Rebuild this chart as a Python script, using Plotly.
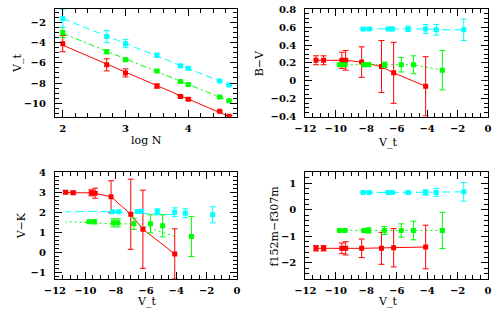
import numpy as np
import plotly.graph_objects as go

# ---- data ----
logN = [2.0, 2.7, 3.0, 3.5, 3.875, 4.0, 4.5, 4.65]

vt_red = [-4.1, -6.2, -7.0, -8.3, -9.35, -9.6, -10.8, -11.3]
vt_red_err = [0.8, 0.6, 0.4, 0.2, 0.1, 0.1, 0.08, 0.08]
vt_green = [-3.0, -4.9, -5.7, -6.8, -7.85, -8.15, -9.4, -9.75]
vt_green_err = [0.5, 0.2, 0.15, 0.1, 0.08, 0.08, 0.06, 0.06]
vt_cyan = [-1.6, -3.4, -4.1, -5.25, -6.3, -6.55, -7.8, -8.2]
vt_cyan_err = [0.9, 0.6, 0.4, 0.2, 0.1, 0.1, 0.06, 0.06]

bv_red = [-0.06, 0.09, 0.16, 0.21, 0.23, 0.23, 0.23, 0.23]
bv_red_err = [0.33, 0.34, 0.29, 0.17, 0.11, 0.09, 0.05, 0.05]
bv_green = [0.12, 0.18, 0.18, 0.18, 0.18, 0.18, 0.18, 0.18]
bv_green_err = [0.22, 0.10, 0.08, 0.03, 0.02, 0.01, 0.01, 0.01]
bv_cyan = [0.57, 0.57, 0.58, 0.58, 0.58, 0.58, 0.58, 0.58]
bv_cyan_err = [0.12, 0.06, 0.05, 0.03, 0.02, 0.01, 0.01, 0.01]

vk_red = [-0.05, 1.18, 1.93, 2.8, 2.98, 3.0, 3.0, 3.03]
vk_red_err = [1.25, 1.95, 1.75, 0.8, 0.25, 0.15, 0.08, 0.07]
vk_green = [0.82, 1.35, 1.45, 1.45, 1.5, 1.5, 1.55, 1.55]
vk_green_err = [1.0, 0.55, 0.45, 0.28, 0.2, 0.2, 0.1, 0.03]
vk_cyan = [1.9, 1.98, 2.03, 2.05, 2.08, 2.07, 2.05, 2.05]
vk_cyan_err = [0.4, 0.22, 0.22, 0.15, 0.07, 0.05, 0.02, 0.02]

uv_red = [-1.4, -1.43, -1.45, -1.45, -1.45, -1.45, -1.45, -1.45]
uv_red_err = [0.82, 0.72, 0.6, 0.35, 0.25, 0.2, 0.1, 0.1]
uv_green = [-0.78, -0.78, -0.78, -0.78, -0.78, -0.78, -0.78, -0.78]
uv_green_err = [0.68, 0.35, 0.25, 0.15, 0.1, 0.05, 0.02, 0.02]
uv_cyan = [0.67, 0.65, 0.65, 0.65, 0.65, 0.65, 0.65, 0.65]
uv_cyan_err = [0.35, 0.15, 0.1, 0.04, 0.03, 0.03, 0.02, 0.02]

RED, GREEN, CYAN = "#ff0000", "#00ff00", "#00ffff"
FONT = "DejaVu Serif"
FS = 10

fig = go.Figure()


def pts(x, y, err, color, xa, ya):
    fig.add_trace(go.Scatter(
        x=x, y=y, mode="markers", xaxis=xa, yaxis=ya,
        marker=dict(symbol="square", size=5, color=color, line=dict(width=0)),
        error_y=dict(type="data", array=err, visible=True, color=color,
                     thickness=1, width=3),
        showlegend=False))


def line(x, y, color, dash, xa, ya):
    fig.add_trace(go.Scatter(
        x=x, y=y, mode="lines", xaxis=xa, yaxis=ya,
        line=dict(color=color, width=1, dash=dash), showlegend=False))


# panel 1: V_t vs log N with linear fits
xs = np.array(logN)
for vals, err, col, dash in [(vt_red, vt_red_err, RED, "solid"),
                             (vt_green, vt_green_err, GREEN, "6px,3px,2px,3px"),
                             (vt_cyan, vt_cyan_err, CYAN, "7px,4px")]:
    p = np.polyfit(xs, vals, 1)
    xe = np.array([xs.min(), xs.max()])
    line(xe, np.polyval(p, xe), col, dash, "x", "y")
    pts(logN, vals, err, col, "x", "y")

# panel 2: B-V
line(vt_red, bv_red, RED, "solid", "x2", "y2")
line(vt_green, bv_green, GREEN, "2px,3px", "x2", "y2")
line(vt_cyan, bv_cyan, CYAN, "9px,4px", "x2", "y2")
pts(vt_red, bv_red, bv_red_err, RED, "x2", "y2")
pts(vt_green, bv_green, bv_green_err, GREEN, "x2", "y2")
pts(vt_cyan, bv_cyan, bv_cyan_err, CYAN, "x2", "y2")

# panel 3: V-K (lines of green/cyan drawn against red V_t, as in original)
line(vt_red, vk_red, RED, "solid", "x3", "y3")
line(vt_red, vk_green, GREEN, "2px,3px", "x3", "y3")
line(vt_red, vk_cyan, CYAN, "9px,4px", "x3", "y3")
pts(vt_red, vk_red, vk_red_err, RED, "x3", "y3")
pts(vt_green, vk_green, vk_green_err, GREEN, "x3", "y3")
pts(vt_cyan, vk_cyan, vk_cyan_err, CYAN, "x3", "y3")

# panel 4: f152m-f307m
line(vt_red, uv_red, RED, "solid", "x4", "y4")
line(vt_green, uv_green, GREEN, "2px,3px", "x4", "y4")
line(vt_cyan, uv_cyan, CYAN, "9px,4px", "x4", "y4")
pts(vt_red, uv_red, uv_red_err, RED, "x4", "y4")
pts(vt_green, uv_green, uv_green_err, GREEN, "x4", "y4")
pts(vt_cyan, uv_cyan, uv_cyan_err, CYAN, "x4", "y4")

W, H = 495, 312


def ax(rng, dtick, mdtick, domain, anchor, standoff):
    return dict(range=rng, domain=domain, anchor=anchor, dtick=dtick, tick0=0,
                ticks="inside", ticklen=7, tickwidth=1, tickcolor="black",
                mirror="allticks", showline=True, linecolor="black", linewidth=1,
                showgrid=False, zeroline=False, ticklabelstandoff=standoff,
                ticklabeloverflow="allow",
                tickfont=dict(family=FONT, size=FS, color="black", weight="bold"),
                minor=dict(dtick=mdtick, ticks="inside", ticklen=4,
                           tickcolor="black", tickwidth=1, showgrid=False))


xl = [45.3 / W, 233 / W]
xr = [303.5 / W, 492 / W]
yt = [1 - 115.5 / H, 1 - 4.3 / H]
yb = [1 - 283 / H, 1 - 172.7 / H]

XS, YS = 2, 6
fig.update_layout(
    width=W, height=H, margin=dict(l=0, r=0, t=0, b=0),
    paper_bgcolor="white", plot_bgcolor="white",
    xaxis=ax([1.875, 4.775], 1, 0.2, xl, "y", XS),
    yaxis=ax([-11.35, -0.68], 2, 0.5, yt, "x", YS),
    xaxis2=ax([-12, 0], 2, 0.5, xr, "y2", XS),
    yaxis2=ax([-0.4, 0.8], 0.2, 0.05, yt, "x2", YS),
    xaxis3=ax([-12, 0], 2, 0.5, xl, "y3", XS),
    yaxis3=ax([-1.3, 4.03], 1, 0.2, yb, "x3", YS),
    xaxis4=ax([-12, 0], 2, 0.5, xr, "y4", XS),
    yaxis4=ax([-2.6, 1.41], 1, 0.2, yb, "x4", YS),
)


def label(text, px, py, rot=0):
    fig.add_annotation(text=text, x=px / W, y=1 - py / H, xref="paper",
                       yref="paper", showarrow=False, textangle=rot,
                       borderpad=0,
                       font=dict(family=FONT, size=11, color="black"),
                       xanchor="center", yanchor="middle")


label("log N", 140, 140)
label("V_t", 388, 142.5)
label("V_t", 140, 306.5)
label("V_t", 388, 306.5)
label("V_t", 6, 60, -90)
label("B−V", 256, 60, -90)
label("V−K", 11, 228, -90)
label("f152m−f307m", 272, 228, -90)

fig.write_html("out.html",
               config={"displayModeBar": False},
               post_script="document.body.style.margin='0';"
                           "document.body.style.overflow='hidden';")
